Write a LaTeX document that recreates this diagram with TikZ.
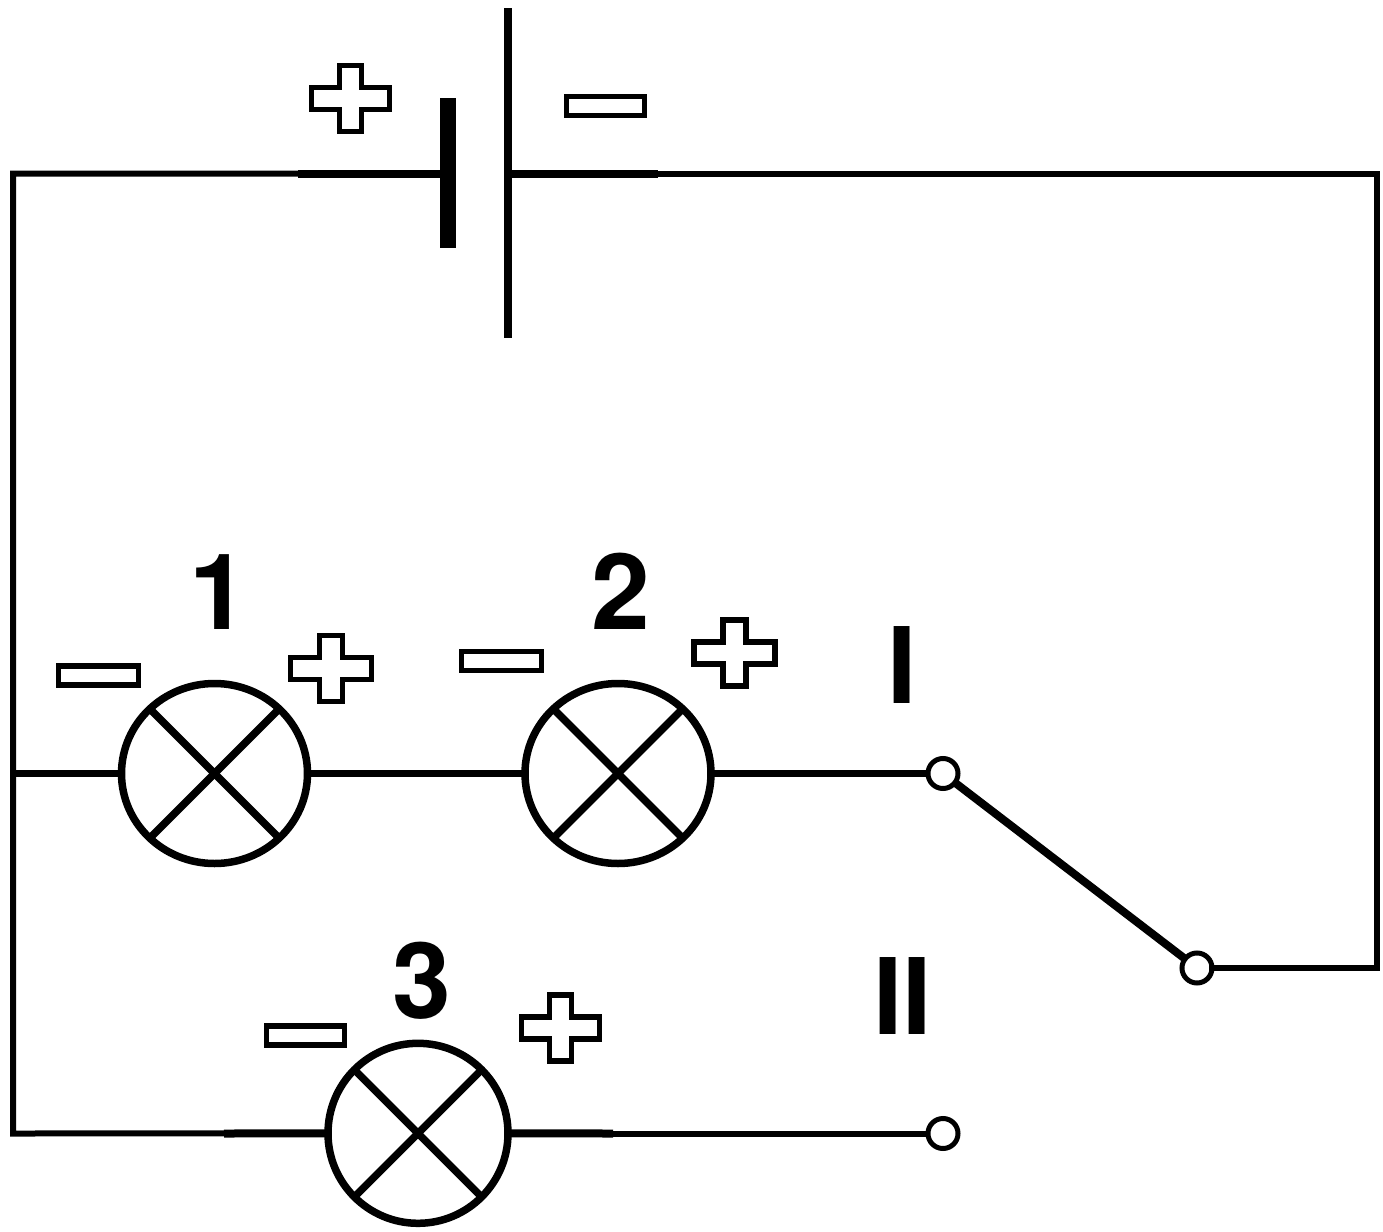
\documentclass[tikz,border=0pt]{standalone}
\usepackage{fontspec}
\setmainfont{Liberation Sans}
\newfontfamily\labfont[BoldFont={TeX Gyre Heros Bold}]{TeX Gyre Heros}
\usetikzlibrary{shapes.geometric}
\begin{document}
\begin{tikzpicture}[x=0.5pt,y=-0.5pt,
  wire/.style={line width=3pt},
  thickwire/.style={line width=4pt},
  midwire/.style={line width=3.65pt},
  lamp/.style={ellipse,draw,line width=3.75pt,inner sep=0pt,outer sep=0pt,fill=white},
  widelamp/.style={lamp,minimum width=93pt,minimum height=90pt},
  roundlamp/.style={lamp,minimum width=90pt,minimum height=90pt},
  cross/.style={line width=3.75pt},
  terminal/.style={circle,draw,line width=2.5pt,minimum size=15pt,inner sep=0pt,outer sep=0pt,fill=white},
  plate/.style={fill=black,inner sep=0pt,outer sep=0pt},
  lab/.style={font=\labfont\fontsize{52.8pt}{54pt}\selectfont\bfseries,inner sep=0pt,anchor=base},
  sign/.style={line width=2.6pt,fill=white,miter limit=10},
  plussign/.pic={\draw[sign] (-39,-11) -- (-11,-11) -- (-11,-33) -- (11,-33) -- (11,-11) -- (39,-11) -- (39,11) -- (11,11) -- (11,33) -- (-11,33) -- (-11,11) -- (-39,11) -- cycle;},
  lampplus/.pic={\draw[sign] (-40.5,-11) -- (-11.5,-11) -- (-11.5,-33) -- (11.5,-33) -- (11.5,-11) -- (40.5,-11) -- (40.5,11) -- (11.5,11) -- (11.5,33) -- (-11.5,33) -- (-11.5,11) -- (-40.5,11) -- cycle;},
  minussign/.pic={\draw[sign] (-39,-9.5) rectangle (39,9.5);},
  lampminus/.pic={\draw[sign] (-40,-9.5) rectangle (40,9.5);}
]
\useasboundingbox (0,0) rectangle (1383,1232);
% battery plates
\node[plate,minimum width=8pt,minimum height=75pt] (bp) at (448,173) {};
\node[plate,minimum width=4pt,minimum height=165pt] (bn) at (508,173) {};
% lamps
\node[widelamp] (l1) at (214.5,773.5) {};
\node[widelamp] (l2) at (618,773.5) {};
\node[roundlamp] (l3) at (418,1133.3) {};
% terminals
\node[terminal] (ta) at (943,773.5) {};
\node[terminal] (tb) at (1197,968) {};
\node[terminal] (tc) at (943,1133.5) {};
% corners and junctions
\coordinate (ctl) at (13,173.5);
\coordinate (ctr) at (1377,173.5);
\coordinate (cbr) at (1377,968);
\coordinate (cbl) at (13,1133.5);
\coordinate (jl) at (13,773.5);
\coordinate (jp) at (298,173.5);
\coordinate (jn) at (658,173.5);
\coordinate (j12) at (416,773.5);
\coordinate (j2a) at (820,773.5);
\coordinate (j3l) at (224,1133.5);
\coordinate (j3r) at (613,1133.5);
% wires
\draw[wire,line cap=rect] (bn.east |- ctr) -- (ctr) -- (cbr) -- (tb);
\draw[wire,line cap=rect] (bp.west |- ctl) -- (ctl) -- (cbl) -- (l3);
\draw[thickwire] (jp) -- (bp.west |- jp);
\draw[thickwire] (jn) -- (bn.east |- jn);
\draw[midwire] (jl) -- (l1);
\draw[midwire] (l1) -- (j12);
\draw[midwire] (j12) -- (l2);
\draw[midwire] (l2) -- (j2a);
\draw[midwire] (j2a) -- (ta);
\draw[thickwire] (j3l) -- (l3);
\draw[thickwire] (l3) -- (j3r);
\draw[wire] (j3r) -- (tc);
\draw[thickwire] (ta) -- (tb);
% lamp crosses
\foreach \L in {l1,l2,l3}{
  \draw[cross] (\L.45) -- (\L.225);
  \draw[cross] (\L.135) -- (\L.315);
}
% polarity signs
\pic at (350.5,98.5) {plussign};
\pic at (605.5,106) {minussign};
\pic at (331,668.5) {lampplus};
\pic at (98.5,675.5) {lampminus};
\pic at (734.5,653) {lampplus};
\pic at (501.5,661) {lampminus};
\pic at (560.5,1028) {plussign};
\pic at (305.5,1035.5) {minussign};
% labels
\node[lab] (n1) at (219,629) {1};
\node[lab] (n2) at (621,629) {2};
\node[lab] (n3) at (422,1018.5) {3};
\node[lab] (nI) at (902,703.5) {I};
\node[lab] (nII) at (902.5,1034) {II};
\end{tikzpicture}
\end{document}
